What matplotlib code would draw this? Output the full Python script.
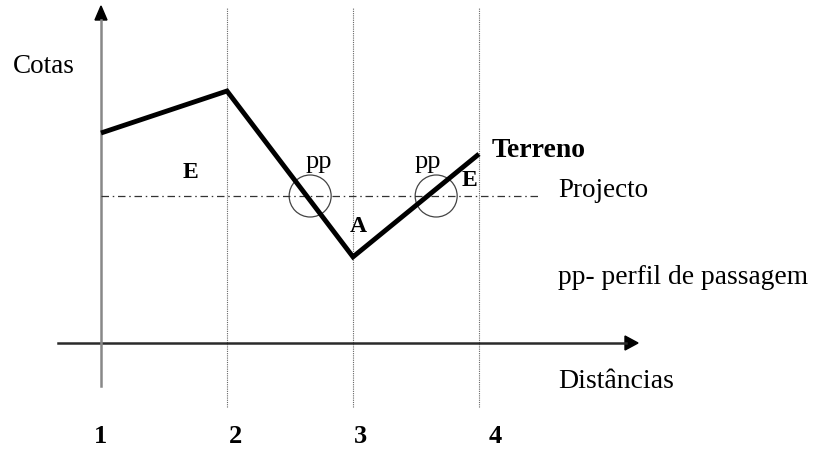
import numpy as np
import matplotlib
matplotlib.use('Agg')
from matplotlib import pyplot as plt
from matplotlib.patches import Ellipse, Polygon

# estacas (distancias) e cotas
estacas = [0, 1, 2, 3]
estaca_labels = ['1', '2', '3', '4']
cotas_terreno = [10.0, 12.0, 4.1, 9.0]
cota_projecto = 7.0
pp_distancias = [1.66, 2.66]   # perfis de passagem (marcados a olho)

# escala: 126 px por estaca, 21 px por unidade de cota, eixo em (101, 343)
X0, Y0, SX, SY = 101, 343, 126.0, 21.0
def px(x, y):
    return (x - X0) / SX, (Y0 - y) / SY

plt.rcParams['font.family'] = ['Liberation Serif', 'DejaVu Serif']

fig = plt.figure(figsize=(8.19, 4.49), dpi=100)
ax = fig.add_axes([0, 0, 1, 1])
ax.set_xlim(px(0, 0)[0], px(819, 0)[0])
ax.set_ylim(px(0, 449)[1], px(0, 0)[1])
ax.axis('off')

# linhas verticais das estacas
for e in estacas[1:]:
    ax.plot([e, e], [px(0, 407)[1], px(0, 8)[1]], color='#666666', lw=0.8,
            linestyle=(0, (1, 1)))

# eixos
ax.plot([px(58, 0)[0], px(626, 0)[0]], [0, 0], color='#2a2a2a', lw=1.8)
ax.add_patch(Polygon([px(625, 336), px(638, 343), px(625, 350)], closed=True,
                     color='black'))
ax.plot([0, 0], [px(0, 386)[1], px(0, 20)[1]], color='#888888', lw=1.8)
ax.add_patch(Polygon([px(95, 20), px(101, 6), px(107, 20)], closed=True,
                     color='black'))

# linha de projecto
ax.plot([0, px(538, 0)[0]], [cota_projecto, cota_projecto], color='#333333',
        lw=0.9, linestyle=(0, (6, 3, 1.2, 3)))

# terreno
ax.plot(estacas, cotas_terreno, color='black', lw=3.5, solid_capstyle='butt',
        solid_joinstyle='miter')

# circulos pp
for d in pp_distancias:
    ax.add_patch(Ellipse((d, cota_projecto), 2 * 21 / SX, 2 * 21 / SY,
                         fill=False, edgecolor='#444444', lw=0.9))

def txt(x, y, s, **kw):
    ax.text(*px(x, y), s, **kw)

txt(13, 73, 'Cotas', fontsize=19.5, ha='left', va='baseline')
txt(190, 172, 'E', fontsize=17, fontweight='bold', ha='center', va='center')
txt(319, 168, 'pp', fontsize=19, ha='center', va='baseline')
txt(428, 168, 'pp', fontsize=19, ha='center', va='baseline')
txt(358, 226, 'A', fontsize=17, fontweight='bold', ha='center', va='center')
txt(469, 181, 'E', fontsize=17, fontweight='bold', ha='center', va='center')
txt(492, 157, 'Terreno', fontsize=20, fontweight='bold', ha='left',
    va='baseline')
txt(558, 197, 'Projecto', fontsize=19.5, ha='left', va='baseline')
txt(558, 284, 'pp- perfil de passagem', fontsize=19.8, ha='left',
    va='baseline')
txt(558, 388, 'Distâncias', fontsize=20, ha='left', va='baseline')

num_x = [101, 235, 360, 495]
for lab, x in zip(estaca_labels, num_x):
    txt(x, 443, lab, fontsize=19, fontweight='bold', ha='center',
        va='baseline')

fig.savefig('out.png', dpi=100)
